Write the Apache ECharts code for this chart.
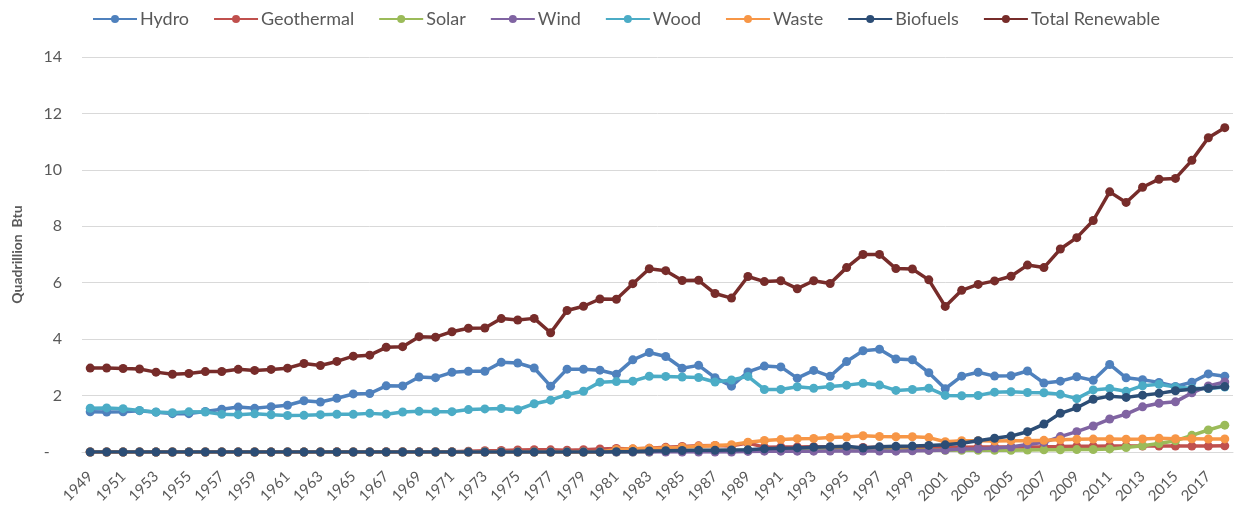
<!DOCTYPE html>
<html>
<head>
<meta charset="utf-8">
<title>Renewable energy consumption</title>
<script src="https://cdn.jsdelivr.net/npm/echarts@6/dist/echarts.min.js"></script>
<style>
  html, body { margin: 0; padding: 0; background: #fff; }
  #chart { width: 1239px; height: 508px; }
</style>
</head>
<body>
<div id="chart"></div>
<script>
// years on the x axis
var years = [];
for (var y = 1949; y <= 2018; y++) years.push(String(y));

// quadrillion Btu, 1949 - 2018
var hydro = [1.425, 1.415, 1.424, 1.466, 1.413, 1.360, 1.360, 1.435, 1.516, 1.592,
  1.548, 1.608, 1.656, 1.816, 1.772, 1.907, 2.058, 2.073, 2.344, 2.342,
  2.659, 2.634, 2.824, 2.864, 2.861, 3.177, 3.155, 2.976, 2.333, 2.937,
  2.931, 2.900, 2.758, 3.266, 3.527, 3.386, 2.970, 3.071, 2.635, 2.334,
  2.837, 3.046, 3.016, 2.617, 2.892, 2.683, 3.205, 3.590, 3.640, 3.297,
  3.268, 2.811, 2.242, 2.689, 2.825, 2.690, 2.703, 2.869, 2.446, 2.511,
  2.669, 2.539, 3.103, 2.629, 2.562, 2.467, 2.321, 2.472, 2.767, 2.688];

var geothermal = [0, 0, 0, 0, 0, 0, 0, 0, 0, 0,
  0, 0.001, 0.002, 0.002, 0.004, 0.005, 0.004, 0.004, 0.007, 0.009,
  0.013, 0.011, 0.012, 0.031, 0.043, 0.053, 0.070, 0.078, 0.077, 0.064,
  0.084, 0.110, 0.123, 0.105, 0.129, 0.165, 0.198, 0.219, 0.229, 0.217,
  0.317, 0.171, 0.178, 0.179, 0.186, 0.173, 0.152, 0.163, 0.167, 0.168,
  0.171, 0.164, 0.164, 0.171, 0.175, 0.178, 0.181, 0.181, 0.186, 0.192,
  0.200, 0.208, 0.212, 0.212, 0.214, 0.214, 0.212, 0.210, 0.210, 0.218];

var solar = [0, 0, 0, 0, 0, 0, 0, 0, 0, 0,
  0, 0, 0, 0, 0, 0, 0, 0, 0, 0,
  0, 0, 0, 0, 0, 0, 0, 0, 0, 0,
  0, 0, 0, 0, 0, 0.055, 0.055, 0.056, 0.057, 0.057,
  0.059, 0.060, 0.063, 0.064, 0.066, 0.065, 0.065, 0.065, 0.064, 0.062,
  0.062, 0.061, 0.060, 0.058, 0.058, 0.060, 0.063, 0.068, 0.076, 0.080,
  0.085, 0.090, 0.110, 0.160, 0.220, 0.300, 0.400, 0.590, 0.780, 0.951];

var wind = [0, 0, 0, 0, 0, 0, 0, 0, 0, 0,
  0, 0, 0, 0, 0, 0, 0, 0, 0, 0,
  0, 0, 0, 0, 0, 0, 0, 0, 0, 0,
  0, 0, 0, 0, 0, 0, 0, 0, 0, 0,
  0.022, 0.029, 0.031, 0.030, 0.031, 0.036, 0.033, 0.033, 0.034, 0.031,
  0.046, 0.057, 0.070, 0.105, 0.115, 0.142, 0.178, 0.264, 0.341, 0.546,
  0.721, 0.923, 1.168, 1.340, 1.601, 1.728, 1.777, 2.096, 2.343, 2.482];

var wood = [1.549, 1.562, 1.535, 1.474, 1.419, 1.394, 1.424, 1.416, 1.334, 1.323,
  1.353, 1.320, 1.295, 1.300, 1.323, 1.337, 1.335, 1.369, 1.340, 1.419,
  1.440, 1.429, 1.430, 1.503, 1.527, 1.540, 1.497, 1.711, 1.837, 2.038,
  2.152, 2.476, 2.496, 2.510, 2.684, 2.679, 2.660, 2.640, 2.480, 2.550,
  2.680, 2.216, 2.214, 2.313, 2.260, 2.324, 2.370, 2.437, 2.371, 2.184,
  2.214, 2.262, 2.006, 1.995, 2.002, 2.121, 2.136, 2.109, 2.098, 2.044,
  1.891, 2.200, 2.250, 2.150, 2.350, 2.400, 2.300, 2.250, 2.250, 2.300];

var waste = [0, 0, 0, 0, 0, 0, 0, 0, 0, 0,
  0, 0, 0, 0, 0, 0, 0, 0, 0, 0,
  0, 0, 0, 0, 0, 0, 0, 0, 0, 0,
  0, 0, 0.087, 0.111, 0.129, 0.143, 0.172, 0.206, 0.230, 0.256,
  0.345, 0.408, 0.440, 0.473, 0.479, 0.515, 0.531, 0.577, 0.551, 0.542,
  0.540, 0.511, 0.364, 0.402, 0.401, 0.389, 0.403, 0.397, 0.413, 0.436,
  0.452, 0.458, 0.462, 0.450, 0.465, 0.490, 0.470, 0.470, 0.460, 0.465];

var biofuels = [0, 0, 0, 0, 0, 0, 0, 0, 0, 0,
  0, 0, 0, 0, 0, 0, 0, 0, 0, 0,
  0, 0, 0, 0, 0, 0, 0, 0, 0, 0,
  0, 0, 0.013, 0.019, 0.035, 0.043, 0.052, 0.059, 0.063, 0.071,
  0.077, 0.111, 0.129, 0.145, 0.169, 0.188, 0.200, 0.143, 0.184, 0.201,
  0.209, 0.233, 0.254, 0.308, 0.402, 0.487, 0.564, 0.720, 0.988, 1.372,
  1.567, 1.868, 1.980, 1.936, 2.014, 2.078, 2.170, 2.225, 2.257, 2.318];

var total = [2.974, 2.978, 2.958, 2.940, 2.831, 2.754, 2.784, 2.850, 2.854, 2.929,
  2.891, 2.928, 2.971, 3.138, 3.065, 3.210, 3.396, 3.433, 3.711, 3.733,
  4.087, 4.070, 4.264, 4.387, 4.394, 4.729, 4.677, 4.736, 4.227, 5.017,
  5.165, 5.423, 5.415, 5.966, 6.493, 6.427, 6.077, 6.086, 5.617, 5.456,
  6.221, 6.040, 6.069, 5.788, 6.068, 5.971, 6.535, 7.002, 7.004, 6.501,
  6.486, 6.101, 5.161, 5.730, 5.940, 6.064, 6.228, 6.625, 6.536, 7.193,
  7.597, 8.205, 9.220, 8.846, 9.385, 9.669, 9.697, 10.337, 11.138, 11.495];

var seriesNames = ["Hydro", "Geothermal", "Solar", "Wind", "Wood", "Waste", "Biofuels", "Total Renewable"];
var seriesData = [hydro, geothermal, solar, wind, wood, waste, biofuels, total];
var colors = ["#4f81bd", "#c0504d", "#9bbb59", "#8064a2", "#4bacc6", "#f79646", "#2c4d75", "#772c2a"];

var textColor = "#595959";
var fontName = "Lato, 'Open Sans', sans-serif";

var chart = echarts.init(document.getElementById("chart"));

var series = seriesNames.map(function (name, i) {
  return {
    name: name,
    type: "line",
    data: seriesData[i],
    symbol: "circle",
    symbolSize: 9,
    lineStyle: { width: 3.5, color: colors[i] },
    itemStyle: { color: colors[i] },
    emphasis: { disabled: true },
    z: 2 + i
  };
});

chart.setOption({
  animation: false,
  color: colors,
  legend: {
    top: 5,
    left: 87,
    itemWidth: 44,
    itemHeight: 10,
    itemGap: 24,
    textStyle: { color: textColor, fontSize: 18, fontFamily: fontName, padding: [0, 0, 0, -2] },
    data: seriesNames
  },
  grid: { left: 82, right: 6, top: 57, bottom: 56 },
  xAxis: {
    type: "category",
    data: years,
    boundaryGap: true,
    axisLine: { lineStyle: { color: "#d9d9d9", width: 1 } },
    axisTick: { show: false },
    axisLabel: {
      interval: 1,
      rotate: 45,
      color: textColor,
      fontSize: 15,
      fontFamily: fontName,
      margin: 22
    }
  },
  yAxis: {
    type: "value",
    min: 0,
    max: 14,
    interval: 2,
    name: "Quadrillion  Btu",
    nameLocation: "middle",
    nameGap: 58,
    nameTextStyle: { color: textColor, fontSize: 14, fontWeight: "bold", fontFamily: fontName },
    axisLine: { show: false },
    axisTick: { show: false },
    splitLine: { lineStyle: { color: "#d9d9d9", width: 1 } },
    axisLabel: {
      color: textColor,
      fontSize: 16,
      fontFamily: fontName,
      margin: 20,
      formatter: function (v) { return v === 0 ? "-   " : String(v); }
    }
  },
  series: series
});
</script>
</body>
</html>
